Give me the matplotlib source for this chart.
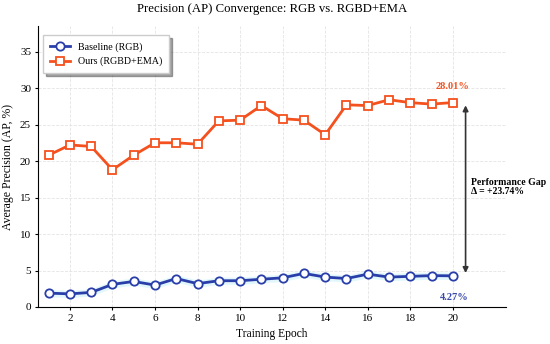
import matplotlib
matplotlib.use("Agg")
import matplotlib.pyplot as plt
import numpy as np

epochs = list(range(1, 21))
baseline = [1.9, 1.8, 2.0, 3.1, 3.5, 3.0, 3.9, 3.2, 3.6, 3.6, 3.8, 4.0, 4.6, 4.1, 3.9, 4.5, 4.1, 4.2, 4.3, 4.27]
ours = [20.8, 22.2, 22.0, 18.8, 20.8, 22.5, 22.5, 22.3, 25.5, 25.6, 27.6, 25.8, 25.6, 23.6, 27.7, 27.6, 28.4, 28.0, 27.8, 28.01]
xticks = [2, 4, 6, 8, 10, 12, 14, 16, 18, 20]
yticks = [0, 5, 10, 15, 20, 25, 30, 35]

plt.rcParams['font.family'] = ['Liberation Serif', 'DejaVu Serif']

fig = plt.figure(figsize=(5.5, 3.44), dpi=100)
ax = fig.add_axes([38/550, 1-307/344, (506-38)/550, (307-26)/344])

blue = '#2a3eaa'
orange = '#f4511e'

b = np.array(baseline)
ax.fill_between(epochs, b - 0.5, b + 0.5, color='#d6f5fa', alpha=0.7, lw=0, zorder=1)
ax.plot(epochs, baseline, '-o', color=blue, lw=2, ms=6, mfc='white', mec=blue, mew=1.3,
        label='Baseline (RGB)', zorder=3)
ax.plot(epochs, ours, '-s', color=orange, lw=2, ms=6, mfc='white', mec=orange, mew=1.3,
        label='Ours (RGBD+EMA)', zorder=3)

ax.set_xlim(0.5, 22.5)
ax.set_ylim(0, 38.5)
ax.set_xticks(xticks)
ax.set_yticks(yticks)
ax.tick_params(labelsize=8, length=2.5, pad=2.5)
ax.grid(True, ls='--', lw=0.6, color='#dddddd', alpha=0.8)
ax.spines['top'].set_visible(False)
ax.spines['right'].set_visible(False)

ax.set_title('Precision (AP) Convergence: RGB vs. RGBD+EMA', fontsize=9.2, pad=10)
ax.set_xlabel('Training Epoch', fontsize=8.3, labelpad=4)
ax.set_ylabel('Average Precision (AP, %)', fontsize=8.5, labelpad=4)

ax.annotate('', xy=(20.6, ours[-1]), xytext=(20.6, baseline[-1]),
            arrowprops=dict(arrowstyle='<|-|>', color='#333333', lw=1.2, mutation_scale=8))
gap = ours[-1] - baseline[-1]
ax.text(20.85, 16.4, f'Performance Gap\n\u0394 = +{gap:.2f}%', fontsize=7, fontweight='bold',
        va='center', ha='left', linespacing=1.0)
ax.text(20, ours[-1] + 2.2, f'{ours[-1]:.2f}%', color=orange, fontsize=7.5, fontweight='bold',
        ha='center', va='center')
ax.text(20.05, baseline[-1] - 2.9, f'{baseline[-1]:.2f}%', color='#3949ab', fontsize=7.5,
        fontweight='bold', ha='center', va='center')

leg = ax.legend(loc='upper left', fontsize=7.2, fancybox=False, shadow=True, framealpha=1,
                edgecolor='#cccccc', borderpad=0.7, bbox_to_anchor=(0.0, 0.985))

fig.savefig('out.png', dpi=100)
